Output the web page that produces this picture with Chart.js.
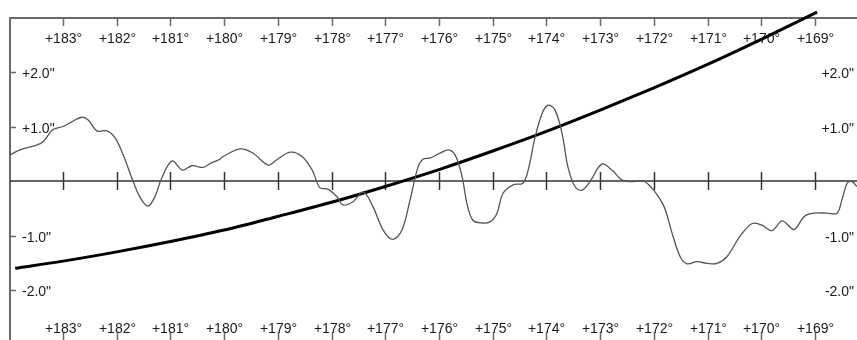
<!DOCTYPE html>
<html>
<head>
<meta charset="utf-8">
<script src="https://cdn.jsdelivr.net/npm/chart.js@4"></script>
<style>
  html, body { margin: 0; padding: 0; background: #fff; }
  #wrap { width: 857px; height: 340px; }
</style>
</head>
<body>
<div id="wrap"><canvas id="c" width="857" height="340"></canvas></div>
<script>
// Longitude ticks (degrees) and their labels
const degTicks = [183, 182, 181, 180, 179, 178, 177, 176, 175, 174, 173, 172, 171, 170, 169];
const degLabels = ['+183°', '+182°', '+181°', '+180°', '+179°', '+178°', '+177°', '+176°', '+175°', '+174°', '+173°', '+172°', '+171°', '+170°', '+169°'];

// Offset ticks (arcseconds) and their labels
const offTicks = [2, 1, -1, -2];
const offLabels = ['+2.0"', '+1.0"', '-1.0"', '-2.0"'];

// Measured residual curve: longitude (deg) and offset (arcsec)
const residDeg = [183.99, 183.80, 183.49, 183.37, 183.19, 183.00, 182.83, 182.65, 182.53, 182.37,
  182.18, 182.03, 181.88, 181.72, 181.57, 181.42, 181.29, 181.16, 180.97, 180.78,
  180.60, 180.39, 180.26, 180.08, 180.02, 179.70, 179.46, 179.18, 179.02, 178.77,
  178.55, 178.36, 178.22, 178.07, 177.90, 177.79, 177.60, 177.41, 177.23, 177.04,
  176.86, 176.69, 176.54, 176.39, 176.30, 176.17, 175.98, 175.83, 175.70, 175.57,
  175.48, 175.37, 175.20, 175.05, 174.92, 174.81, 174.62, 174.44, 174.34, 174.21,
  174.08, 173.97, 173.84, 173.71, 173.60, 173.47, 173.34, 173.19, 172.97, 172.78,
  172.60, 172.44, 172.26, 172.18, 172.00, 171.81, 171.66, 171.51, 171.38, 171.20,
  171.01, 170.82, 170.64, 170.40, 170.17, 169.99, 169.80, 169.61, 169.39, 169.20,
  169.02, 168.78, 168.59, 168.50, 168.40, 168.31, 168.22];
const residVal = [0.48, 0.57, 0.66, 0.72, 0.94, 1.00, 1.09, 1.17, 1.12, 0.92,
  0.92, 0.79, 0.48, 0.06, -0.29, -0.46, -0.29, 0.06, 0.37, 0.20,
  0.28, 0.25, 0.32, 0.40, 0.45, 0.59, 0.51, 0.29, 0.39, 0.53,
  0.45, 0.20, -0.12, -0.15, -0.29, -0.44, -0.38, -0.20, -0.47, -0.90,
  -1.07, -0.90, -0.35, 0.26, 0.40, 0.42, 0.51, 0.57, 0.48, 0.08,
  -0.41, -0.72, -0.77, -0.75, -0.59, -0.23, -0.07, -0.04, 0.20, 0.81,
  1.24, 1.39, 1.30, 0.88, 0.26, -0.10, -0.17, -0.01, 0.31, 0.20,
  0.02, -0.01, 0.00, 0.00, -0.17, -0.47, -0.96, -1.39, -1.52, -1.48,
  -1.51, -1.51, -1.39, -1.02, -0.78, -0.81, -0.91, -0.73, -0.89, -0.65,
  -0.59, -0.59, -0.59, -0.35, -0.04, -0.01, -0.10];

// Trend curve: longitude (deg) and offset (arcsec)
const trendDeg = [183.89, 183, 182, 181, 180, 179, 178, 177, 176, 175, 174, 173, 172, 171, 170, 169, 168.96];
const trendVal = [-1.60, -1.47, -1.30, -1.11, -0.90, -0.65, -0.39, -0.10, 0.21, 0.55, 0.91, 1.30, 1.71, 2.14, 2.60, 3.08, 3.10];

const toPoints = (xs, ys) => xs.map((x, i) => ({ x: x, y: ys[i] }));

const FONT = '14px "Liberation Sans", Arial, sans-serif';
const INK = '#1a1a1a';
const FRAME = '#6a6a6a';

// Frame, axis ticks and labels, all placed through the chart's scales
const framePlugin = {
  id: 'frame',
  beforeDatasetsDraw(chart) {
    const ctx = chart.ctx;
    const xs = chart.scales.x, ys = chart.scales.y;
    const W = chart.width, H = chart.height;
    const frameLeft = 10, frameTop = 18;
    ctx.save();

    // frame: top and left edges
    ctx.strokeStyle = FRAME;
    ctx.lineWidth = 2;
    ctx.beginPath();
    ctx.moveTo(frameLeft, H);
    ctx.lineTo(frameLeft, frameTop);
    ctx.lineTo(W, frameTop);
    ctx.stroke();

    // zero line
    const y0 = ys.getPixelForValue(0);
    ctx.strokeStyle = '#333';
    ctx.lineWidth = 1.5;
    ctx.beginPath();
    ctx.moveTo(frameLeft, y0);
    ctx.lineTo(W, y0);
    ctx.stroke();

    // degree ticks: top edge, zero line, bottom edge
    degTicks.forEach((d, i) => {
      const px = Math.round(xs.getPixelForValue(d)) + 0.5;
      ctx.strokeStyle = FRAME;
      ctx.lineWidth = 1.5;
      ctx.beginPath();
      ctx.moveTo(px, frameTop); ctx.lineTo(px, frameTop + 8);
      ctx.moveTo(px, H - 8); ctx.lineTo(px, H);
      ctx.stroke();
      ctx.strokeStyle = '#333';
      ctx.beginPath();
      ctx.moveTo(px, y0 - 9); ctx.lineTo(px, y0 + 9);
      ctx.stroke();

      ctx.fillStyle = INK;
      ctx.font = FONT;
      ctx.textAlign = 'center';
      ctx.textBaseline = 'middle';
      ctx.fillText(degLabels[i], px, 39);
      ctx.fillText(degLabels[i], px, 329);
    });

    // offset ticks and labels, left and right
    offTicks.forEach((v, i) => {
      const py = Math.round(ys.getPixelForValue(v)) + 0.5;
      ctx.strokeStyle = FRAME;
      ctx.lineWidth = 1.5;
      ctx.beginPath();
      ctx.moveTo(frameLeft, py); ctx.lineTo(frameLeft + 6, py);
      ctx.stroke();
      ctx.fillStyle = INK;
      ctx.font = FONT;
      ctx.textBaseline = 'middle';
      ctx.textAlign = 'left';
      ctx.fillText(offLabels[i], 22, py + 2);
      ctx.textAlign = 'right';
      ctx.fillText(offLabels[i], 854, py + 2);
    });
    ctx.restore();
  }
};

new Chart(document.getElementById('c'), {
  type: 'line',
  data: {
    datasets: [
      {
        label: 'residual',
        data: toPoints(residDeg, residVal),
        borderColor: '#555',
        borderWidth: 1.3,
        pointRadius: 0,
        tension: 0.35,
        fill: false
      },
      {
        label: 'trend',
        data: toPoints(trendDeg, trendVal),
        borderColor: '#000',
        borderWidth: 3,
        pointRadius: 0,
        cubicInterpolationMode: 'monotone',
        fill: false
      }
    ]
  },
  options: {
    responsive: false,
    animation: false,
    devicePixelRatio: 1,
    layout: { padding: 0 },
    clip: false,
    plugins: { legend: { display: false }, tooltip: { enabled: false } },
    scales: {
      x: { type: 'linear', reverse: true, min: 168.218, max: 184.173, display: false },
      y: { type: 'linear', min: -2.917, max: 3.321, display: false }
    }
  },
  plugins: [framePlugin]
});
</script>
</body>
</html>
